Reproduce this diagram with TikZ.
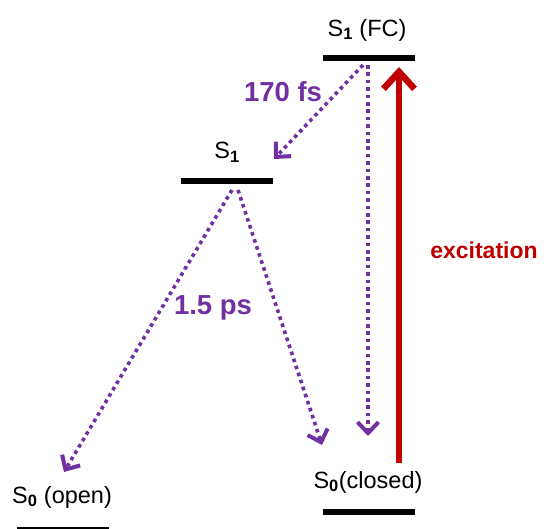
\documentclass[tikz,border=0pt]{standalone}
\usepackage{fontspec}
\setmainfont{Liberation Sans}
\usetikzlibrary{arrows.meta}
\definecolor{pur}{HTML}{7030A0}
\definecolor{dred}{HTML}{C00000}
\newcommand{\sub}[1]{\textsubscript{\textbf{#1}}}
\begin{document}
\begin{tikzpicture}[x=1pt,y=-1pt,
 level/.style={fill=black,inner sep=0pt,minimum width=92pt,minimum height=6pt},
 lbl/.style={font=\fontsize{23.5}{26}\selectfont,inner sep=0pt},
 tlbl/.style={font=\fontsize{27.5}{30}\selectfont\bfseries,text=pur,inner sep=0pt},
 decay/.style={pur,line width=3.6pt,dash pattern=on 3.6pt off 3.8pt,-{Straight Barb[length=11pt,width=21pt,line width=4pt]}},
 exc/.style={dred,line width=5.5pt,-{Straight Barb[length=17pt,width=31pt,line width=6.5pt]}}]
\useasboundingbox (0,0) rectangle (544,529);
% levels
\node[level] (fc) at (369,58) {};
\node[level] (s1) at (226.5,181) {};
\node[level] (sc) at (368.5,511.5) {};
\node[level] (so) at (63,530) {};
% labels
\node[lbl] (lfc) at (367,30) {S\sub{1} (FC)};
\node[lbl] (ls1) at (227,152) {S\sub{1}};
\node[lbl] (lso) at (62,497) {S\sub{0} (open)};
\node[lbl] (lsc) at (368,482) {S\sub{0}(closed)};
\node[tlbl] (t170) at (283,92) {170 fs};
\node[tlbl] (t15) at (213,308) {1.5 ps};
\node[font=\fontsize{23}{26}\selectfont\bfseries,text=dred,inner sep=0pt] (lexc) at (484,250) {excitation};
% connector ends
\coordinate (a1s) at (363,65);
\coordinate (a1e) at (274,159);
\coordinate (a2s) at (368,65);
\coordinate (a2e) at (368,436);
\coordinate (a3s) at (232,190);
\coordinate (a3e) at (64,472);
\coordinate (a4s) at (238,190);
\coordinate (a4e) at (322,445);
\coordinate (exs) at (399,463);
\coordinate (exe) at (399,67);
% arrows
\draw[decay] (a1s) -- (a1e);
\draw[decay] (a2s) -- (a2e);
\draw[decay] (a3s) -- (a3e);
\draw[decay] (a4s) -- (a4e);
\draw[exc] (exs) -- (exe);
\end{tikzpicture}
\end{document}
